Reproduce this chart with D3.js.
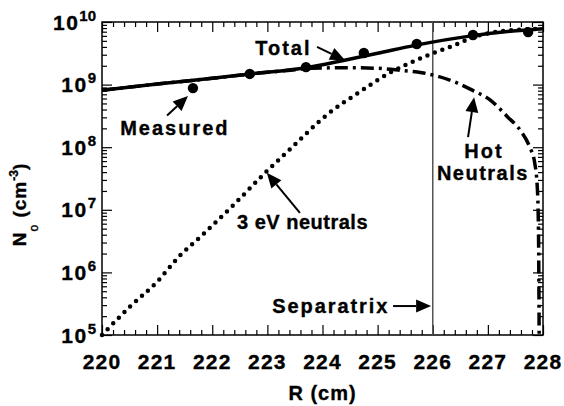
<!DOCTYPE html>
<html>
<head>
<meta charset="utf-8">
<script src="https://cdn.jsdelivr.net/npm/d3@7"></script>
<style>
  body { margin: 0; background: #fff; }
  svg { font-family: "Liberation Sans", Arial, Helvetica, sans-serif; font-weight: bold; }
  text { stroke: #000; stroke-width: 0.35px; }
</style>
</head>
<body>
<div id="chart"></div>
<script>
// x ticks and y decades
const rTicks = [220, 221, 222, 223, 224, 225, 226, 227, 228];
const decades = [1e5, 1e6, 1e7, 1e8, 1e9, 1e10];
const decadeExp = [5, 6, 7, 8, 9, 10];

// Total neutral density (solid)
const totalR = [220, 221, 222, 222.7, 223.7, 224.4, 225.0, 225.7, 226.7, 227.4, 228];
const totalN = [8.1e8, 1.02e9, 1.26e9, 1.48e9, 1.86e9, 2.45e9, 3.16e9, 4.27e9, 6.0e9, 7.1e9, 7.8e9];

// Hot neutrals (dash-dot)
const hotR = [220, 221, 222, 222.7, 223.3, 223.8, 224.4, 225.0, 225.4, 225.8, 226.4, 226.7, 227.05, 227.35, 227.6, 227.76, 227.85, 227.9, 227.92, 227.93];
const hotN = [8.1e8, 1.02e9, 1.26e9, 1.48e9, 1.66e9, 1.82e9, 1.86e9, 1.82e9, 1.70e9, 1.55e9, 1.10e9, 8.3e8, 5.6e8, 3.1e8, 1.8e8, 1.0e8, 5.6e7, 2.0e7, 3.2e6, 1.0e5];

// 3 eV neutrals (dotted)
const coldR = [220, 220.5, 221, 221.4, 221.8, 222.4, 222.96, 223.4, 224.1, 224.7, 225.2, 225.6, 226.0, 226.4, 226.7, 227.3, 228];
const coldN = [1.0e5, 2.8e5, 7.1e5, 1.8e6, 3.8e6, 1.23e7, 3.9e7, 9.1e7, 3.4e8, 7.9e8, 1.51e9, 2.24e9, 3.16e9, 4.27e9, 5.6e9, 7.2e9, 7.8e9];

// Measured points
const measR = [221.65, 222.68, 223.70, 224.75, 225.71, 226.73, 227.73];
const measN = [8.8e8, 1.48e9, 1.9e9, 3.2e9, 4.45e9, 6.2e9, 6.9e9];

const separatrixR = 226;

// labels placed in data coordinates
const labels = [
  { text: "Total", r: 222.78, n: 2.95e9, anchor: "start", ls: 2 },
  { text: "Measured", r: 220.33, n: 1.55e8, anchor: "start", ls: 2 },
  { text: "3 eV neutrals", r: 222.45, n: 4.9e6, anchor: "start", ls: 0.5 },
  { text: "Hot", r: 226.93, n: 6.8e7, anchor: "middle", ls: 2 },
  { text: "Neutrals", r: 226.91, n: 3.0e7, anchor: "middle", ls: 1.5 },
  { text: "Separatrix", r: 225.21, n: 2.25e5, anchor: "end", ls: 1.9 }
];
const arrows = [
  { r0: 223.90, n0: 4.0e9, r1: 224.41, n1: 2.45e9 },
  { r0: 221.18, n0: 3.2e8, r1: 221.56, n1: 6.6e8 },
  { r0: 223.59, n0: 8.9e6, r1: 222.99, n1: 3.9e7 },
  { r0: 226.64, n0: 1.45e8, r1: 226.75, n1: 6.3e8 },
  { r0: 225.28, n0: 2.9e5, r1: 225.97, n1: 2.9e5 }
];

const width = 564, height = 406;
const margin = { top: 22, right: 21, bottom: 71, left: 102 };
const innerW = width - margin.left - margin.right;
const innerH = height - margin.top - margin.bottom;

const svg = d3.select("#chart").append("svg")
  .attr("width", width).attr("height", height);
const g = svg.append("g").attr("transform", `translate(${margin.left},${margin.top})`);

const x = d3.scaleLinear().domain([220, 228]).range([0, innerW]);
const y = d3.scaleLog().domain([1e5, 1e10]).range([innerH, 0]);

const minorR = d3.range(220, 228.001, 0.2).filter(v => Math.abs(v - Math.round(v)) > 1e-6);
const minorN = [];
decades.slice(0, -1).forEach(d => { for (let k = 2; k <= 9; k++) minorN.push(d * k); });

// axes with inward ticks on all four sides
function addAxis(axisFn, scale, values, size, transform) {
  g.append("g").attr("transform", transform)
    .call(axisFn(scale).tickValues(values).tickSize(-size).tickSizeOuter(0).tickFormat(""))
    .call(a => a.select(".domain").remove())
    .call(a => a.selectAll("line").attr("stroke", "#000").attr("stroke-width", 1.2));
}
addAxis(d3.axisBottom, x, rTicks, 10, `translate(0,${innerH})`);
addAxis(d3.axisBottom, x, minorR, 5, `translate(0,${innerH})`);
addAxis(d3.axisTop, x, rTicks, 10, "translate(0,0)");
addAxis(d3.axisTop, x, minorR, 5, "translate(0,0)");
addAxis(d3.axisLeft, y, decades, 10, "translate(0,0)");
addAxis(d3.axisLeft, y, minorN, 5, "translate(0,0)");
addAxis(d3.axisRight, y, decades, 10, `translate(${innerW},0)`);
addAxis(d3.axisRight, y, minorN, 5, `translate(${innerW},0)`);

// frame
g.append("rect").attr("width", innerW).attr("height", innerH)
  .attr("fill", "none").attr("stroke", "#000").attr("stroke-width", 1.5);

// separatrix
g.append("line")
  .attr("x1", x(separatrixR)).attr("x2", x(separatrixR))
  .attr("y1", 0).attr("y2", innerH)
  .attr("stroke", "#555").attr("stroke-width", 1.5);

// x tick labels
g.selectAll(".xlab").data(rTicks).enter().append("text")
  .attr("x", d => x(d)).attr("y", innerH + 34)
  .attr("text-anchor", "middle").attr("font-size", 21).attr("letter-spacing", 1.2)
  .text(d => d);

// y tick labels: 10 with superscript exponent
const ylab = g.selectAll(".ylab").data(decades).enter().append("text")
  .attr("x", -6).attr("y", d => y(d) + 7.5)
  .attr("text-anchor", "end").attr("font-size", 21).attr("letter-spacing", 1.5);
ylab.append("tspan").text("10");
ylab.append("tspan").attr("font-size", 15).attr("dy", -9).attr("letter-spacing", 0)
  .text((d, i) => decadeExp[i]);

// axis titles
g.append("text").attr("x", x(224)).attr("y", innerH + 65)
  .attr("text-anchor", "middle").attr("font-size", 20).attr("letter-spacing", 1)
  .text("R (cm)");

const yt = svg.append("text")
  .attr("transform", `translate(26,${margin.top + innerH / 2 + 26}) rotate(-90)`)
  .attr("text-anchor", "middle").attr("font-size", 19).attr("letter-spacing", 1);
yt.append("tspan").text("N");
yt.append("tspan").attr("font-size", 12).attr("font-weight", "normal").attr("dy", 12).text("o");
yt.append("tspan").attr("dy", -12).text(" (cm");
yt.append("tspan").attr("font-size", 12).attr("dy", -8).attr("letter-spacing", 0).text("-3");
yt.append("tspan").attr("dy", 8).text(")");

// curves
const line = d3.line().x(d => x(d[0])).y(d => y(d[1])).curve(d3.curveMonotoneX);
const plot = g.append("g");

plot.append("path").datum(d3.zip(hotR, hotN))
  .attr("d", line).attr("fill", "none").attr("stroke", "#000")
  .attr("stroke-width", 3.5).attr("stroke-dasharray", "13,5,3,5");

plot.append("path").datum(d3.zip(coldR, coldN))
  .attr("d", line).attr("fill", "none").attr("stroke", "#000")
  .attr("stroke-width", 4.5).attr("stroke-linecap", "round").attr("stroke-dasharray", "0,8");

plot.append("path").datum(d3.zip(totalR, totalN))
  .attr("d", line).attr("fill", "none").attr("stroke", "#000").attr("stroke-width", 3.5);

plot.selectAll(".meas").data(d3.zip(measR, measN)).enter().append("circle")
  .attr("cx", d => x(d[0])).attr("cy", d => y(d[1])).attr("r", 5.2).attr("fill", "#000");

// annotations
g.selectAll(".lab").data(labels).enter().append("text")
  .attr("x", d => x(d.r)).attr("y", d => y(d.n))
  .attr("text-anchor", d => d.anchor).attr("font-size", 20)
  .attr("letter-spacing", d => d.ls)
  .text(d => d.text);

arrows.forEach(a => {
  const x0 = x(a.r0), y0 = y(a.n0), x1 = x(a.r1), y1 = y(a.n1);
  const ang = Math.atan2(y1 - y0, x1 - x0);
  const hl = 15, hw = 6.5;
  const bx = x1 - hl * Math.cos(ang), by = y1 - hl * Math.sin(ang);
  g.append("line").attr("x1", x0).attr("y1", y0).attr("x2", bx).attr("y2", by)
    .attr("stroke", "#000").attr("stroke-width", 2);
  g.append("path")
    .attr("d", `M${x1},${y1}L${bx + hw * Math.sin(ang)},${by - hw * Math.cos(ang)}L${bx - hw * Math.sin(ang)},${by + hw * Math.cos(ang)}Z`)
    .attr("fill", "#000");
});
</script>
</body>
</html>
